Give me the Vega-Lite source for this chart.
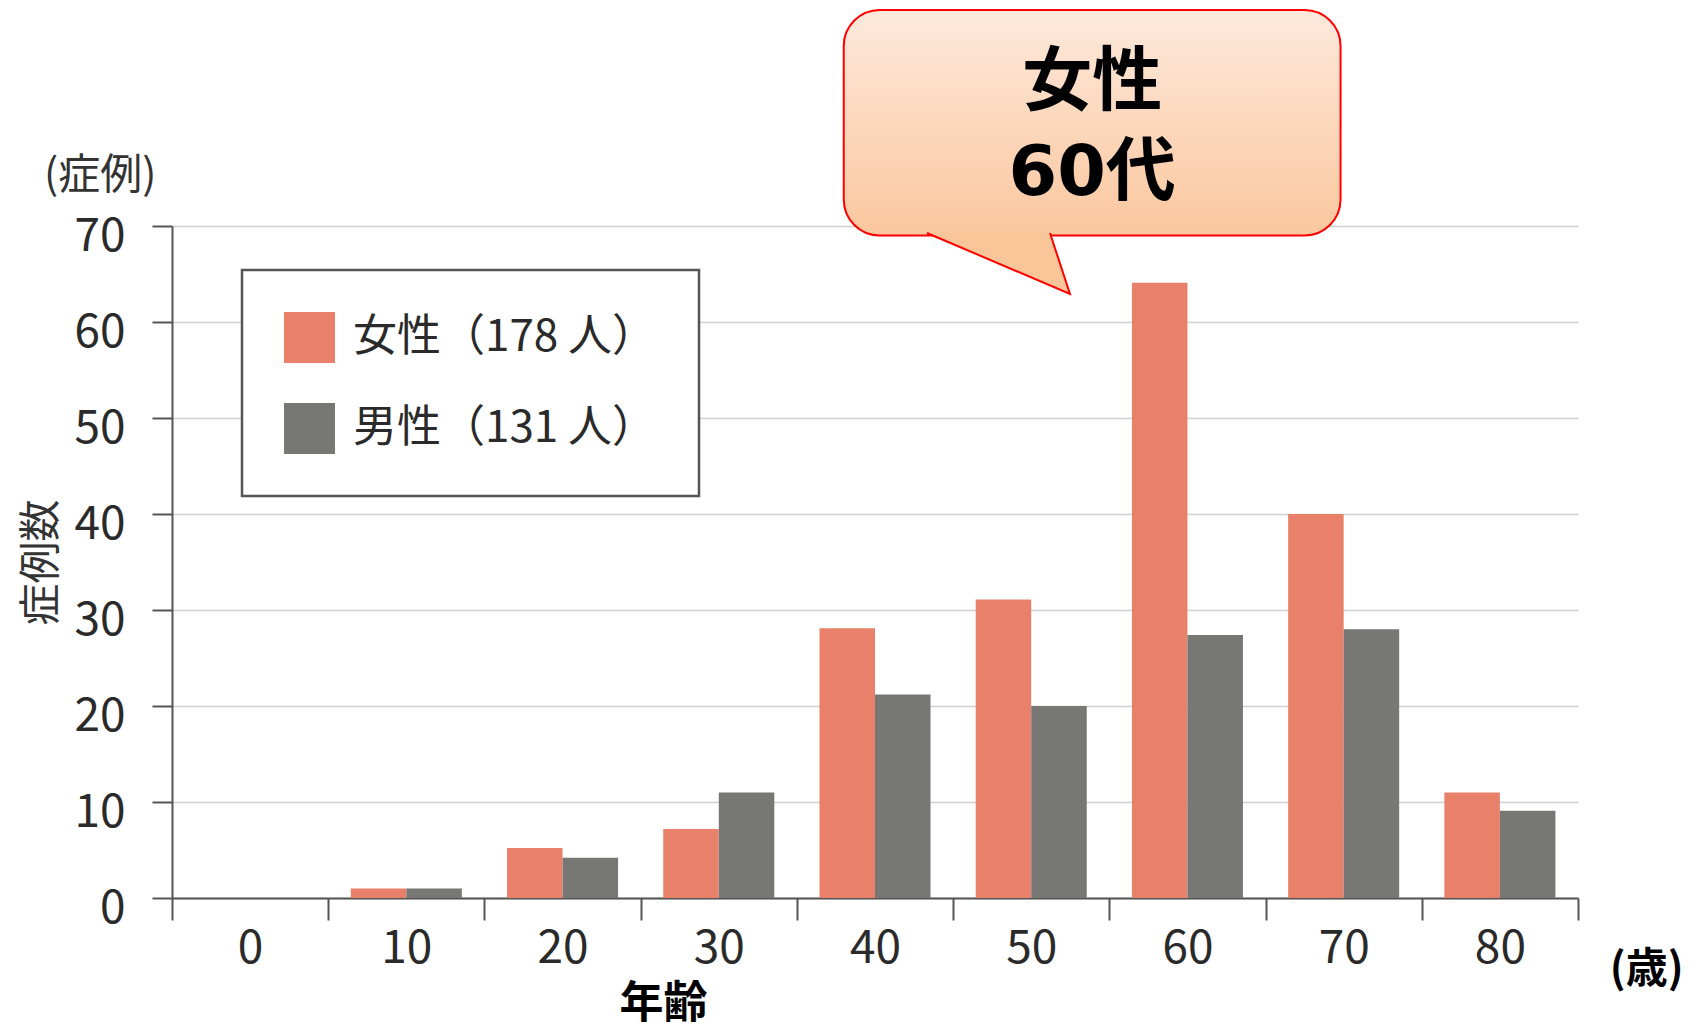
{
  "$schema": "https://vega.github.io/schema/vega-lite/v6.json",
  "width": 1406,
  "height": 672,
  "autosize": {"type": "none"},
  "padding": {"left": 172, "top": 226, "right": 125, "bottom": 131},
  "background": "white",
  "config": {
    "font": "Noto Sans CJK JP",
    "view": {"stroke": null}
  },
  "resolve": {"scale": {"x": "independent"}, "axis": {"x": "independent"}},
  "layer": [
    {
      "data": {
        "values": [
          {"age": "0", "sex": "女性（178 人）", "count": 0},
          {"age": "0", "sex": "男性（131 人）", "count": 0},
          {"age": "10", "sex": "女性（178 人）", "count": 1},
          {"age": "10", "sex": "男性（131 人）", "count": 1},
          {"age": "20", "sex": "女性（178 人）", "count": 5.2},
          {"age": "20", "sex": "男性（131 人）", "count": 4.2},
          {"age": "30", "sex": "女性（178 人）", "count": 7.2},
          {"age": "30", "sex": "男性（131 人）", "count": 11},
          {"age": "40", "sex": "女性（178 人）", "count": 28.1},
          {"age": "40", "sex": "男性（131 人）", "count": 21.2},
          {"age": "50", "sex": "女性（178 人）", "count": 31.1},
          {"age": "50", "sex": "男性（131 人）", "count": 20},
          {"age": "60", "sex": "女性（178 人）", "count": 64.1},
          {"age": "60", "sex": "男性（131 人）", "count": 27.4},
          {"age": "70", "sex": "女性（178 人）", "count": 40},
          {"age": "70", "sex": "男性（131 人）", "count": 28},
          {"age": "80", "sex": "女性（178 人）", "count": 11},
          {"age": "80", "sex": "男性（131 人）", "count": 9.1}
        ]
      },
      "mark": {"type": "bar"},
      "encoding": {
        "x": {
          "field": "age",
          "type": "nominal",
          "scale": {"domain": ["0", "10", "20", "30", "40", "50", "60", "70", "80"], "paddingInner": 0, "paddingOuter": 0},
          "axis": {
            "title": "年齢",
            "titleFontSize": 44,
            "titleFontWeight": "bold",
            "titleColor": "#000",
            "titleX": 491,
            "titleY": 106,
            "titleBaseline": "middle",
            "titleAlign": "center",
            "labelAngle": 0,
            "labelFontSize": 46,
            "labelColor": "#2a2a2a",
            "labelPadding": 6,
            "tickBand": "extent",
            "tickSize": 22,
            "tickColor": "#555",
            "tickWidth": 2,
            "domainColor": "#555",
            "domainWidth": 2,
            "grid": false
          }
        },
        "xOffset": {
          "field": "sex",
          "type": "nominal",
          "scale": {"domain": ["女性（178 人）", "男性（131 人）"], "paddingInner": 0, "paddingOuter": 0.407}
        },
        "y": {
          "field": "count",
          "type": "quantitative",
          "title": "症例数",
          "scale": {"domain": [0, 70], "nice": false},
          "axis": {
            "values": [0, 10, 20, 30, 40, 50, 60, 70],
            "labelFontSize": 46,
            "labelColor": "#2a2a2a",
            "labelPadding": 27,
            "labelOffset": 10,
            "tickSize": 20,
            "tickColor": "#555",
            "tickWidth": 2,
            "domainColor": "#555",
            "domainWidth": 2,
            "grid": true,
            "gridColor": "#cfcfcf",
            "gridWidth": 1.5,
            "titleFontSize": 42,
            "titleFontWeight": "normal",
            "titleColor": "#333",
            "titlePadding": 10
          }
        },
        "color": {
          "field": "sex",
          "type": "nominal",
          "scale": {"domain": ["女性（178 人）", "男性（131 人）"], "range": ["#E9806A", "#777874"]},
          "legend": {
            "title": null,
            "orient": "none",
            "legendX": 70,
            "legendY": 44,
            "strokeColor": "#555",
            "fillColor": "white",
            "padding": 42,
            "symbolType": "square",
            "symbolSize": 2600,
            "symbolStrokeWidth": 0,
            "symbolOpacity": 1,
            "labelFontSize": 44,
            "labelColor": "#2a2a2a",
            "labelLimit": 600,
            "labelOffset": 18,
            "rowPadding": 40,
            "encode": {"legend": {"update": {"strokeWidth": {"value": 2.5}}}}
          }
        }
      }
    },
    {
      "data": {"values": [{}]},
      "mark": {"type": "rect", "cornerRadius": 36, "fill": "#000", "opacity": 0.1, "xOffset": 4, "yOffset": 5},
      "encoding": {
        "x": {"datum": 38.0, "type": "quantitative", "scale": {"domain": [-5, 85]}, "axis": null},
        "x2": {"datum": 69.8},
        "y": {"datum": 92.5, "type": "quantitative", "title": "症例数"},
        "y2": {"datum": 69.0}
      }
    },
    {
      "data": {"values": [{}]},
      "mark": {
        "type": "rect",
        "cornerRadius": 36,
        "stroke": "#FF0000",
        "strokeWidth": 2,
        "fill": {
          "gradient": "linear",
          "x1": 0, "y1": 0, "x2": 0, "y2": 1,
          "stops": [
            {"offset": 0, "color": "#FDE9DC"},
            {"offset": 1, "color": "#FBC79E"}
          ]
        }
      },
      "encoding": {
        "x": {"datum": 38.0, "type": "quantitative", "scale": {"domain": [-5, 85]}, "axis": null},
        "x2": {"datum": 69.8},
        "y": {"datum": 92.5, "type": "quantitative", "title": "症例数"},
        "y2": {"datum": 69.0}
      }
    },
    {
      "data": {"values": [{}]},
      "mark": {
        "type": "point",
        "filled": true,
        "fill": "#FBC59A",
        "fillOpacity": 1,
        "opacity": 1,
        "stroke": "#FF0000",
        "strokeWidth": 2,
        "size": 21316,
        "shape": "M -1 -0.438 L 0.959 0.397 L 0.685 -0.438"
      },
      "encoding": {
        "x": {"datum": 48.0, "type": "quantitative", "scale": {"domain": [-5, 85]}, "axis": null},
        "y": {"datum": 65.94, "type": "quantitative", "title": "症例数"}
      }
    },
    {
      "data": {"values": [{}]},
      "mark": {"type": "text", "text": "女性", "fontSize": 70, "fontWeight": "bold", "color": "#000", "align": "center", "baseline": "middle"},
      "encoding": {
        "x": {"datum": 53.9, "type": "quantitative", "scale": {"domain": [-5, 85]}, "axis": null},
        "y": {"datum": 84.8, "type": "quantitative", "title": "症例数"}
      }
    },
    {
      "data": {"values": [{}]},
      "mark": {"type": "text", "text": "60代", "font": "DejaVu Sans, Noto Sans CJK JP", "fontSize": 70, "fontWeight": "bold", "color": "#000", "align": "center", "baseline": "middle"},
      "encoding": {
        "x": {"datum": 53.9, "type": "quantitative", "scale": {"domain": [-5, 85]}, "axis": null},
        "y": {"datum": 75.4, "type": "quantitative", "title": "症例数"}
      }
    },
    {
      "data": {"values": [{}]},
      "mark": {"type": "text", "text": "(症例)", "fontSize": 42, "color": "#333", "align": "center", "baseline": "middle"},
      "encoding": {
        "x": {"datum": -9.6, "type": "quantitative", "scale": {"domain": [-5, 85]}, "axis": null},
        "y": {"datum": 75.2, "type": "quantitative", "title": "症例数"}
      }
    },
    {
      "data": {"values": [{}]},
      "mark": {"type": "text", "text": "(歳)", "fontSize": 42, "fontWeight": "bold", "color": "#000", "align": "center", "baseline": "middle"},
      "encoding": {
        "x": {"datum": 89.4, "type": "quantitative", "scale": {"domain": [-5, 85]}, "axis": null},
        "y": {"datum": -7.5, "type": "quantitative", "title": "症例数"}
      }
    }
  ]
}
